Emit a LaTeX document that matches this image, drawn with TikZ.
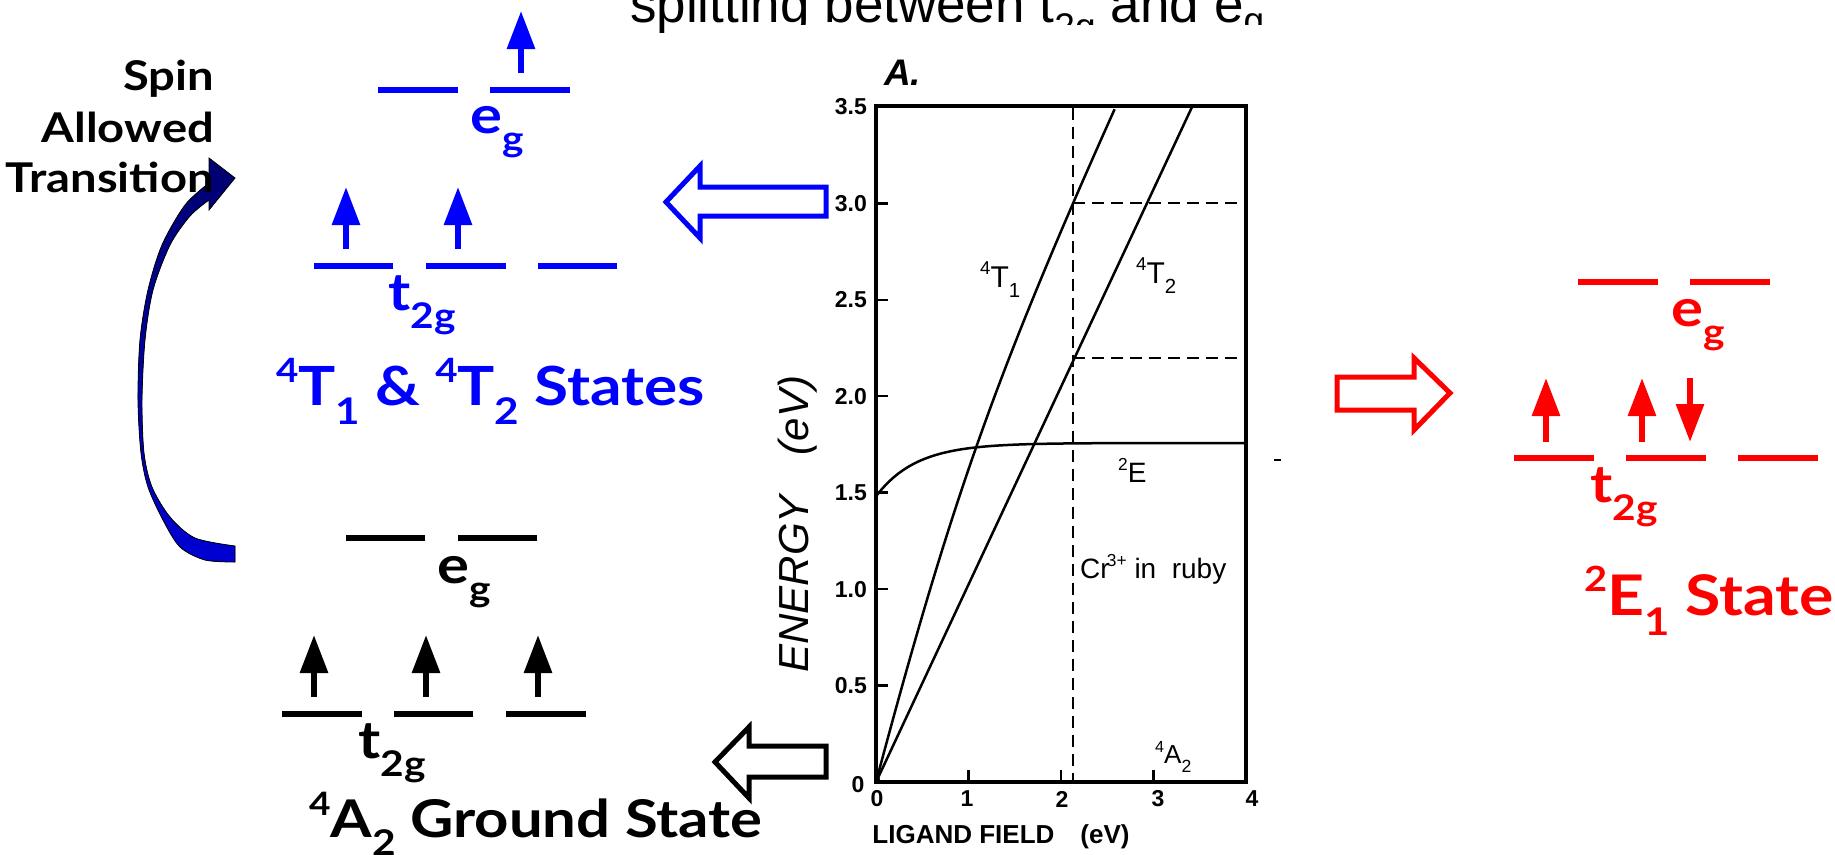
\documentclass[tikz,border=0pt]{standalone}
\usepackage{fontspec}
\usepackage{graphicx}
\setmainfont{Liberation Sans}
\newfontfamily\cs{Lato}[FakeStretch=1.15]
\usetikzlibrary{arrows.meta}
\definecolor{pblue}{RGB}{0,0,255}
\definecolor{pred}{RGB}{255,0,0}
\definecolor{navyb}{RGB}{0,0,110}
\definecolor{midb}{RGB}{0,0,210}
\newcommand\dn[1]{\raisebox{-0.36em}{\scalebox{0.68}{#1}}}
\newcommand\up[1]{\raisebox{0.42em}{\scalebox{0.62}{#1}}}
\newcommand\fs[1]{\fontsize{#1}{#1}\selectfont}
\begin{document}
\begin{tikzpicture}[x=1pt,y=-1pt,
  lvl/.style={line width=6pt},
  elec/.style={line width=6pt,-{Triangle[length=38pt,width=27pt]}},
  hollow/.style={line width=5pt, line join=miter, fill=white},
  crv/.style={line width=2.5pt},
  dsh/.style={line width=2pt, dash pattern=on 12pt off 7pt},
  frame/.style={line width=3.5pt},
  tck/.style={line width=2.5pt},
  lab/.style={inner sep=0pt, anchor=base west, font=\cs\bfseries\fs{52}},
  big/.style={inner sep=0pt, anchor=base west},
  gl/.style={inner sep=0pt, font=\bfseries\fs{23}},
  gt/.style={inner sep=0pt, anchor=base west, font=\fs{30}}]
\useasboundingbox (0,0) rectangle (1835,854);

% title (clipped at top)
\node[inner sep=0pt, anchor=base west, font=\fs{53}] (title) at (630,22) {splitting between t\textsubscript{2g} and e\textsubscript{g}};
\fill[white] (675,25) rectangle (1300,70);

% curved spin-allowed arrow
\filldraw[draw=black, line width=0.8pt, top color=navyb, bottom color=midb]
  (235,178) -- (209,210) -- (209,200)
  -- plot[smooth, tension=0.5] coordinates {(209,200) (190,216) (170,245) (153,290) (145,340) (142,400) (144,453) (152,487) (170,517) (195,538) (235,546)}
  -- (235,562)
  -- plot[smooth, tension=0.5] coordinates {(235,562) (205,560) (180,547) (163,520) (148,487) (141,453) (138,400) (140,340) (148,290) (162,245) (185,205) (209,183)}
  -- (209,158) -- cycle;
\node[inner sep=0pt, anchor=base east, font=\cs\bfseries\fs{41}] (spin) at (214,90) {Spin};
\node[inner sep=0pt, anchor=base east, font=\cs\bfseries\fs{41}] (allowed) at (214,142) {Allowed};
\node[inner sep=0pt, anchor=base east, font=\cs\bfseries\fs{41}] (transition) at (214,192) {Transition};

% blue excited configuration
\draw[lvl,pblue] (378,90) -- (458,90);
\draw[lvl,pblue] (490,90) -- (570,90);
\draw[elec,pblue] (521,73) -- (521,11);
\node[lab,pblue] (beg) at (470,133) {e\dn{g}};
\draw[lvl,pblue] (314,266) -- (393,266);
\draw[lvl,pblue] (426,266) -- (506,266);
\draw[lvl,pblue] (538,266) -- (617,266);
\draw[elec,pblue] (346,249) -- (346,187);
\draw[elec,pblue] (458,249) -- (458,187);
\node[lab,pblue] (bt) at (388,310) {t\dn{2g}};
\node[big,pblue,font=\cs\bfseries\fs{54}] (bstates) at (276,405) {\up{4}T\dn{1} \& \up{4}T\dn{2} States};

% black ground configuration
\draw[lvl] (346,538) -- (425,538);
\draw[lvl] (458,538) -- (537,538);
\node[lab] (keg) at (437,583) {e\dn{g}};
\draw[lvl] (282,714) -- (362,714);
\draw[lvl] (394,714) -- (473,714);
\draw[lvl] (506,714) -- (586,714);
\draw[elec] (314,697) -- (314,635);
\draw[elec] (426,697) -- (426,635);
\draw[elec] (538,697) -- (538,635);
\node[lab] (kt) at (358,758) {t\dn{2g}};
\node[big,font=\cs\bfseries\fs{52}] (kstate) at (309,837) {\up{4}A\dn{2} Ground State};

% red doublet configuration
\draw[lvl,pred] (1578,282) -- (1658,282);
\draw[lvl,pred] (1690,282) -- (1770,282);
\node[lab,pred] (reg) at (1671,326) {e\dn{g}};
\draw[lvl,pred] (1514,458) -- (1594,458);
\draw[lvl,pred] (1626,458) -- (1706,458);
\draw[lvl,pred] (1738,458) -- (1818,458);
\draw[elec,pred] (1546,442) -- (1546,378);
\draw[elec,pred] (1642,442) -- (1642,378);
\draw[elec,pred] (1690,378) -- (1690,442);
\node[lab,pred] (rt) at (1590,502) {t\dn{2g}};
\node[big,pred,font=\cs\bfseries\fs{56}] (rstate) at (1584,615) {\up{2}E\dn{1} State};

% hollow block arrows
\draw[hollow,draw=pblue] (826,187) -- (700,187) -- (700,166) -- (666,202) -- (700,238) -- (700,216) -- (826,216) -- cycle;
\draw[hollow,draw=black] (826,746) -- (749,746) -- (749,727) -- (715,762) -- (749,798) -- (749,777) -- (826,777) -- cycle;
\draw[hollow,draw=pred] (1337,377) -- (1414,377) -- (1414,358) -- (1450,393) -- (1414,430) -- (1414,410) -- (1337,410) -- cycle;

% ---------- ligand-field diagram ----------
\node[inner sep=0pt, anchor=base west, font=\bfseries\itshape\fs{37}] (plotA) at (884,85) {A.};
\draw[frame] (876,106) rectangle (1246,782);
\draw[line width=2pt] (1247,106) -- (1247,782);
\foreach \e in {0.5,1.0,1.5,2.0,2.5,3.0}{
  \draw[tck] (876,{782-192.9*\e}) -- (888,{782-192.9*\e});
}
\foreach \t in {0.5,1.0,1.5,2.0,2.5,3.0,3.5}{
  \node[gl, anchor=east] at (867,{782-192.9*\t}) {\t};
}
\node[gl] (y0) at (858,785) {0};
\foreach \l in {1,2,3}{
  \draw[tck] ({876+92.5*\l},782) -- ({876+92.5*\l},770);
}
\foreach \l/\xx in {0/877,1/967,2/1062,3/1158,4/1252}{
  \node[gl] at (\xx,799) {\l};
}
\node[inner sep=0pt, font=\bfseries\fs{26}] (xlab) at (1001,837) {LIGAND FIELD\quad(eV)};
\node[inner sep=0pt, rotate=90, font=\itshape\fs{42}] (ylab) at (798,524) {ENERGY\hspace{40pt}(eV)};

% dashed guides
\draw[dsh] (1073,108) -- (1073,780);
\draw[dsh] (1073,203) -- (1244,203);
\draw[dsh] (1073,358) -- (1244,358);

% curves
\draw[crv] (877,780) -- (1192,107);
\draw[crv] plot[domain=0:2.58, samples=60, variable=\d] ({876+92.5*\d},{782-192.9*(1.5*\d+0.657-0.5*sqrt(1.7266-1.5768*\d+\d*\d))});
\draw[crv] plot[domain=877:1246, samples=70] (\x,{443+52*exp(-(\x-877)/40)});
\fill (877,779) circle (3pt);

% curve labels
\node[gt] (t1) at (980,287) {\up{4}T\dn{1}};
\node[gt] (t2) at (1136,283) {\up{4}T\dn{2}};
\node[gt,font=\fs{28}] (e2) at (1118,482) {\up{2}E};
\node[gt,font=\fs{28}] (cr) at (1080,578) {Cr\kern-0.1em\up{3+}\ in\ \ ruby};
\node[gt,font=\fs{26}] (a2) at (1155,763) {\up{4}A\dn{2}};
\draw[line width=1.5pt] (1274,460) -- (1281,460);
\end{tikzpicture}
\end{document}
